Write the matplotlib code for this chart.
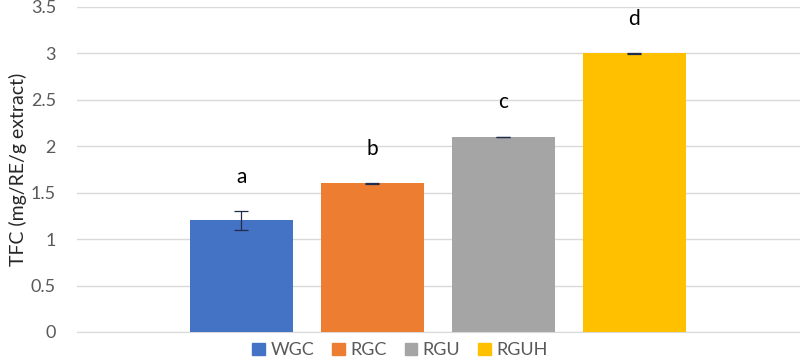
import matplotlib
matplotlib.use('Agg')
import matplotlib.pyplot as plt
import numpy as np

plt.rcParams['font.family'] = ['Lato', 'DejaVu Sans']

# data
groups  = ['WGC', 'RGC', 'RGU', 'RGUH']
tfc     = [1.2, 1.6, 2.1, 3.0]
tfc_err = [0.1, 0.003, 0.003, 0.003]
letters = ['a', 'b', 'c', 'd']
colors  = ['#4472c4', '#ed7d31', '#a5a5a5', '#ffc000']

fig = plt.figure(figsize=(8.0, 3.62), dpi=100)
ax = fig.add_axes([0.096, 0.083, 0.904, 0.898])

x = np.arange(len(groups))
bars = ax.bar(x, tfc, width=0.786, color=colors, yerr=tfc_err,
              error_kw=dict(ecolor='#1f2d4a', elinewidth=0.9, capsize=5, capthick=0.9),
              zorder=3)
for xi, v, e, l in zip(x, tfc, tfc_err, letters):
  ax.text(xi, v + e + 0.37, l, ha='center', va='center', fontsize=15, color='black')

ax.set_xlim(-1.256, 4.263)
ax.set_ylim(0, 3.5)
ax.set_yticks(np.arange(0, 3.51, 0.5))
ax.set_yticklabels(['0', '0.5', '1', '1.5', '2', '2.5', '3', '3.5'])
ax.set_xticks([])
ax.yaxis.grid(True, color='#d9d9d9', linewidth=1.0, zorder=0)
for s in ['top', 'right', 'left']:
  ax.spines[s].set_visible(False)
ax.spines['bottom'].set_color('#d9d9d9')
ax.tick_params(axis='y', length=0, labelsize=13, labelcolor='#595959', pad=15)
ax.set_ylabel('TFC (mg/RE/g extract)', fontsize=14, color='#262626', labelpad=3)

handles = [plt.Rectangle((0, 0), 1, 1, color=c) for c in colors]
fig.legend(handles, groups, loc='lower center', bbox_to_anchor=(0.5, -0.035),
           ncol=4, frameon=False, fontsize=13, handlelength=0.7, handleheight=0.7,
           handletextpad=0.3, columnspacing=1.0, labelcolor='#595959')

fig.savefig('out.png', dpi=100)
